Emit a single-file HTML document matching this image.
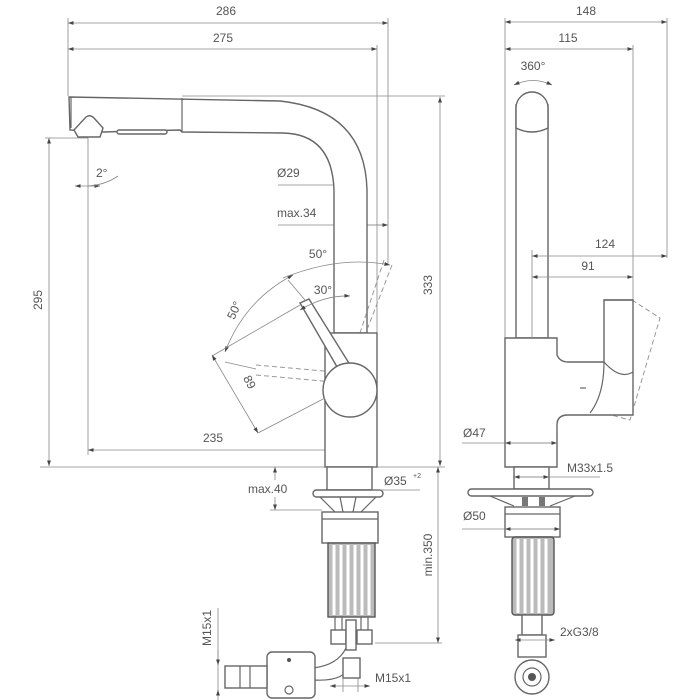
<!DOCTYPE html>
<html><head><meta charset="utf-8"><style>
html,body{margin:0;padding:0;background:#fff}
svg{display:block}
text{font-family:"Liberation Sans",sans-serif;font-size:12px;fill:#555}
.d{stroke:#888;stroke-width:0.8;fill:none}
.o{stroke:#666;stroke-width:1.4;fill:#fff}
.n{stroke:#666;stroke-width:1.2;fill:none}
.ds{stroke:#999;stroke-width:1;fill:none;stroke-dasharray:5 3}
</style></head><body>
<svg width="700" height="700" viewBox="0 0 700 700">
<defs>
<marker id="a" viewBox="0 0 10 10" refX="10" refY="5" markerWidth="7" markerHeight="7" orient="auto-start-reverse"><path d="M0,1.5 L10,5 L0,8.5z" fill="#444"/></marker>
</defs>
<line class="d" x1="68" y1="18" x2="68" y2="96"/>
<line class="d" x1="388" y1="18" x2="388" y2="265"/>
<line class="d" x1="377" y1="45" x2="377" y2="333"/>
<line class="d" x1="68" y1="23" x2="388" y2="23" marker-start="url(#a)" marker-end="url(#a)"/>
<text x="226" y="15" text-anchor="middle">286</text>
<line class="d" x1="68" y1="49" x2="377" y2="49" marker-start="url(#a)" marker-end="url(#a)"/>
<text x="223" y="42" text-anchor="middle">275</text>
<line class="d" x1="182" y1="96" x2="445" y2="96"/>
<line class="d" x1="440" y1="97" x2="440" y2="466" marker-start="url(#a)" marker-end="url(#a)"/>
<text transform="translate(432,285) rotate(-90)" text-anchor="middle">333</text>
<line class="d" x1="45" y1="138" x2="88" y2="138"/>
<line class="d" x1="49" y1="138" x2="49" y2="466" marker-start="url(#a)" marker-end="url(#a)"/>
<text transform="translate(42,300) rotate(-90)" text-anchor="middle">295</text>
<line class="d" x1="88" y1="138" x2="88" y2="455"/>
<line class="d" x1="88" y1="450" x2="350" y2="450" marker-start="url(#a)" marker-end="url(#a)"/>
<text x="213" y="442" text-anchor="middle">235</text>
<line class="d" x1="40" y1="467" x2="445" y2="467"/>
<line class="d" x1="75" y1="186" x2="100" y2="186" marker-start="url(#a)" marker-end="url(#a)"/>
<path class="d" d="M88,186 Q105,185 118,176"/>
<text x="96" y="177">2°</text>
<text x="277" y="177">Ø29</text>
<line class="d" x1="278" y1="185" x2="367" y2="185"/>
<line class="d" x1="334" y1="185" x2="352" y2="185" marker-end="url(#a)" marker-start="url(#a)"/>
<text x="277" y="217">max.34</text>
<line class="d" x1="278" y1="225" x2="388" y2="225"/>
<line class="d" x1="350" y1="225" x2="388" y2="225" marker-start="url(#a)" marker-end="url(#a)"/>
<line class="d" x1="350" y1="225" x2="350" y2="333"/>
<path class="o" d="M69,97 L280,101 Q365,110 367,190 L367,333 L334,333 L334,190 Q332,134 283,133 L182,132 L180,130 L103,132 L70,130 Z"/>
<line class="n" x1="182" y1="98" x2="182" y2="132"/>
<line class="n" x1="71" y1="97" x2="71" y2="128"/>
<path class="o" d="M74,130 L86,117 Q90,114 94,118 L103,128 L100,137 L78,137 Z"/>
<rect class="o" x="117" y="130" width="50" height="4" rx="2"/>
<path class="ds" d="M256,365 L335,372 M256,375 L333,382"/>
<path class="ds" d="M392,265 L365,335 M384,260 L360,333"/>
<rect class="o" x="325" y="333" width="52" height="134"/>
<path class="o" d="M300,303 L309,299 L352,368 L340,372 Z"/>
<circle class="o" cx="350" cy="390" r="27"/>
<path class="d" d="M225,352 Q245,300 293,275" marker-start="url(#a)" marker-end="url(#a)"/>
<path class="d" d="M283,278 Q340,255 390,265" marker-end="url(#a)"/>
<path class="d" d="M300,310 Q325,295 350,296" marker-start="url(#a)" marker-end="url(#a)"/>
<line class="d" x1="212" y1="356" x2="300" y2="305"/>
<line class="d" x1="225" y1="362" x2="256" y2="369"/>
<line class="d" x1="288" y1="280" x2="305" y2="300"/>
<line class="d" x1="212" y1="355" x2="258" y2="433" marker-start="url(#a)" marker-end="url(#a)"/>
<line class="d" x1="258" y1="433" x2="325" y2="398"/>
<text x="318" y="258" text-anchor="middle">50°</text>
<text x="323" y="294" text-anchor="middle">30°</text>
<text transform="translate(238,312) rotate(-65)" text-anchor="middle">50°</text>
<text transform="translate(246,384) rotate(62)" text-anchor="middle">89</text>
<rect class="o" x="327" y="467" width="45" height="23"/>
<rect class="o" x="313" y="490" width="70" height="7" rx="3.5"/>
<path class="n" d="M320,497 L335,512 M376,497 L361,512 M340,497 L343,512 M356,497 L353,512"/>
<rect class="o" x="322" y="512" width="56" height="31"/>
<line class="n" x1="322" y1="519" x2="378" y2="519"/>
<rect x="328" y="543" width="47" height="74" fill="#bbb" stroke="#555" stroke-width="1.4"/>
<path stroke="#fff" stroke-width="3" d="M334,545V615M341,545V615M348,545V615M355,545V615M362,545V615M369,545V615"/>
<rect class="o" x="331" y="630" width="15" height="14"/>
<rect class="o" x="357" y="630" width="15" height="14"/>
<path class="n" d="M335,617V630M342,617V630M361,617V630M368,617V630"/>
<rect class="o" x="346" y="620" width="10" height="30"/>
<path class="n" d="M313,668 Q338,665 346,648 M313,680 Q345,682 350,665"/>
<rect class="o" x="343" y="658" width="17" height="20"/>
<rect class="o" x="267" y="652" width="48" height="46" rx="5"/>
<circle cx="289" cy="660" r="2" fill="#555"/>
<circle class="n" cx="289" cy="690" r="4"/>
<rect class="o" x="225" y="666" width="42" height="22"/>
<path class="n" d="M240,666V688M250,666V688"/>
<text x="248" y="493">max.40</text>
<line class="d" x1="275" y1="467" x2="275" y2="480" marker-start="url(#a)"/>
<line class="d" x1="275" y1="497" x2="275" y2="510" marker-end="url(#a)"/>
<line class="d" x1="270" y1="510" x2="322" y2="510"/>
<text x="384" y="485">Ø35</text><text x="413" y="478" style="font-size:7px">+2</text>
<line class="d" x1="372" y1="490" x2="420" y2="490"/>
<line class="d" x1="438" y1="467" x2="438" y2="643" marker-start="url(#a)" marker-end="url(#a)"/>
<line class="d" x1="375" y1="643" x2="442" y2="643"/>
<text transform="translate(432,555) rotate(-90)" text-anchor="middle">min.350</text>
<line class="d" x1="218" y1="608" x2="218" y2="695"/>
<line class="d" x1="218" y1="650" x2="218" y2="665" marker-end="url(#a)"/>
<line class="d" x1="218" y1="700" x2="218" y2="690" marker-end="url(#a)"/>
<text transform="translate(211,628) rotate(-90)" text-anchor="middle">M15x1</text>
<line class="d" x1="330" y1="686" x2="370" y2="686" marker-start="url(#a)" marker-end="url(#a)"/>
<line class="d" x1="343" y1="678" x2="343" y2="692"/><line class="d" x1="358" y1="678" x2="358" y2="692"/>
<text x="375" y="682">M15x1</text>
<line class="d" x1="505" y1="18" x2="505" y2="338"/>
<line class="d" x1="667" y1="18" x2="667" y2="258"/>
<line class="d" x1="633" y1="45" x2="633" y2="300"/>
<line class="d" x1="505" y1="22" x2="667" y2="22" marker-start="url(#a)" marker-end="url(#a)"/>
<text x="586" y="15" text-anchor="middle">148</text>
<line class="d" x1="505" y1="49" x2="633" y2="49" marker-start="url(#a)" marker-end="url(#a)"/>
<text x="568" y="42" text-anchor="middle">115</text>
<text x="533" y="70" text-anchor="middle">360°</text>
<path class="d" d="M514,85 Q533,76 552,85" marker-start="url(#a)" marker-end="url(#a)"/>
<rect class="o" x="516" y="105" width="32" height="233"/>
<path class="o" d="M516,128 L516,108 A16,16 0 0 1 548,108 L548,128 Q532,136 516,128 Z"/>
<path class="ds" d="M632,300 L660,318 L630,420 L600,412"/>
<path class="o" d="M505,338 L557,338 L557,355 Q560,362 568,362 L604,362 L604,300 L633,300 L633,415 L568,415 Q557,415 557,425 L557,467 L505,467 Z"/>
<line class="n" x1="604" y1="300" x2="633" y2="300"/>
<path class="n" d="M604,362 Q604,395 590,413 M604,362 Q620,380 633,372"/>
<line class="n" x1="580" y1="388" x2="586" y2="388"/>
<line class="d" x1="532" y1="250" x2="532" y2="338"/>
<line class="d" x1="532" y1="256" x2="667" y2="256" marker-start="url(#a)" marker-end="url(#a)"/>
<text x="605" y="248" text-anchor="middle">124</text>
<line class="d" x1="532" y1="277" x2="633" y2="277" marker-start="url(#a)" marker-end="url(#a)"/>
<text x="588" y="270" text-anchor="middle">91</text>
<text x="463" y="437">Ø47</text>
<line class="d" x1="462" y1="443" x2="557" y2="443"/>
<line class="d" x1="505" y1="443" x2="557" y2="443" marker-start="url(#a)" marker-end="url(#a)"/>
<rect class="o" x="514" y="467" width="35" height="22"/>
<text x="567" y="472">M33x1.5</text>
<line class="d" x1="514" y1="477" x2="600" y2="477"/>
<line class="d" x1="514" y1="477" x2="549" y2="477" marker-start="url(#a)" marker-end="url(#a)"/>
<rect class="o" x="468" y="489" width="125" height="7" rx="3.5"/>
<path class="n" d="M490,496 L514,506 M575,496 L550,506"/>
<rect fill="#777" x="522" y="497" width="6" height="9"/><rect fill="#777" x="539" y="497" width="6" height="9"/>
<rect class="o" x="505" y="507" width="55" height="30"/>
<line class="n" x1="505" y1="514" x2="560" y2="514"/>
<text x="463" y="520">Ø50</text>
<line class="d" x1="462" y1="529" x2="560" y2="529"/>
<line class="d" x1="505" y1="529" x2="560" y2="529" marker-start="url(#a)" marker-end="url(#a)"/>
<rect x="512" y="537" width="42" height="78" rx="3" fill="#bbb" stroke="#555" stroke-width="1.4"/>
<path stroke="#fff" stroke-width="3" d="M518,539V613M525,539V613M532,539V613M539,539V613M546,539V613"/>
<rect class="o" x="522" y="615" width="20" height="20"/>
<rect class="o" x="518" y="635" width="28" height="22"/>
<text x="560" y="636">2xG3/8</text>
<line class="d" x1="515" y1="640" x2="555" y2="640" marker-start="url(#a)" marker-end="url(#a)"/>
<circle class="o" cx="532" cy="677" r="17"/>
<circle class="n" cx="532" cy="677" r="9"/>
<circle cx="532" cy="677" r="4" fill="#555"/>
</svg>
</body></html>
